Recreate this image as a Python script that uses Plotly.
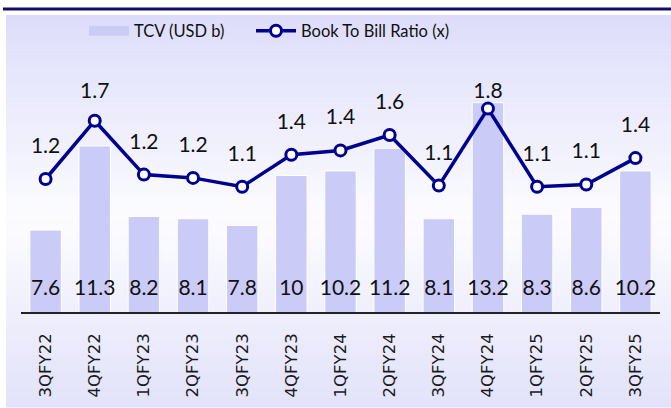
import plotly.graph_objects as go

quarters = ["3QFY22", "4QFY22", "1QFY23", "2QFY23", "3QFY23", "4QFY23", "1QFY24",
            "2QFY24", "3QFY24", "4QFY24", "1QFY25", "2QFY25", "3QFY25"]
tcv = [7.6, 11.3, 8.2, 8.1, 7.8, 10, 10.2, 11.2, 8.1, 13.2, 8.3, 8.6, 10.2]
btb = [1.17, 1.70, 1.21, 1.18, 1.10, 1.39, 1.43, 1.57, 1.11, 1.81, 1.10, 1.12, 1.36]

W, H = 671, 408
L, R, T, B = 21, 11, 50, 96
PW, PH = W - L - R, H - T - B

def px_x(px):
    return (px - L) / PW

def px_y(py):
    return (H - B - py) / PH

Y1 = [4, 4 + PH / 22.75]
Y2 = [1.10 - (H - B - 186.7) / 110, 1.10 + (186.7 - T) / 110]

BAR_COLOR = "#CBCBF8"
LINE_COLOR = "#00008F"

fig = go.Figure()

fig.add_trace(go.Bar(
    x=quarters, y=tcv, name="TCV (USD b)", showlegend=False,
    marker=dict(color=BAR_COLOR, line=dict(color="white", width=1)),
    hoverinfo="skip",
))
# legend proxy for the bars (wide swatch)
fig.add_trace(go.Scatter(
    x=[None], y=[None], mode="lines", name="TCV (USD b)",
    line=dict(color=BAR_COLOR, width=11), hoverinfo="skip",
    legendwidth=112,
))

fig.add_trace(go.Scatter(
    x=quarters, y=[Y1[0] + 1.0] * len(tcv), mode="text",
    text=[f"{v:g}" for v in tcv], textposition="middle center",
    textfont=dict(family="Lato", size=21, color="#111111"),
    showlegend=False, hoverinfo="skip",
))

fig.add_trace(go.Scatter(
    x=quarters, y=btb, name="Book To Bill Ratio (x)", yaxis="y2",
    mode="lines+markers",
    line=dict(color=LINE_COLOR, width=3.5),
    marker=dict(size=11, color="white", line=dict(color=LINE_COLOR, width=3)),
    hoverinfo="skip",
))

fig.add_trace(go.Scatter(
    x=quarters, y=[min(v + 0.285, 1.95) for v in btb], yaxis="y2", mode="text",
    text=[f"{v:.1f}" for v in btb], textposition="middle center",
    textfont=dict(family="Lato", size=21, color="#111111"),
    showlegend=False, hoverinfo="skip", cliponaxis=False,
))

# background gradient and top rule
shapes = []
top, bot = 15, 407
n = 80
for i in range(n):
    y0 = top + (bot - top) * i / n
    y1 = top + (bot - top) * (i + 1) / n
    t = (i + 0.5) / n
    mid = 0.52
    if t < mid:
        f = t / mid
        c0, c1 = (221, 221, 251), (252, 252, 255)
    else:
        f = (t - mid) / (1 - mid)
        c0, c1 = (252, 252, 255), (226, 226, 250)
    c = tuple(round(a + (b - a) * f) for a, b in zip(c0, c1))
    shapes.append(dict(type="rect", xref="paper", yref="paper", layer="below",
                       x0=px_x(6), x1=px_x(671), y0=px_y(y1 + 0.5), y1=px_y(y0),
                       fillcolor=f"rgb{c}", line=dict(width=0)))
shapes.append(dict(type="rect", xref="paper", yref="paper", layer="below",
                   x0=px_x(3), x1=px_x(671), y0=px_y(10.5), y1=px_y(7.5),
                   fillcolor="#140C6E", line=dict(width=0)))

fig.update_layout(
    width=W, height=H,
    margin=dict(l=L, r=R, t=T, b=B, pad=0, autoexpand=False),
    paper_bgcolor="white", plot_bgcolor="rgba(0,0,0,0)",
    bargap=0.36,
    shapes=shapes,
    showlegend=True,
    legend=dict(orientation="h", x=px_x(84), xanchor="left", y=px_y(31), yanchor="middle",
                font=dict(family="Lato", size=16.5, color="#111111"),
                bgcolor="rgba(0,0,0,0)", itemwidth=40, traceorder="normal"),
    xaxis=dict(type="category", range=[-0.5, len(quarters) - 0.5], automargin=False,
               showline=True, linecolor="#222222", linewidth=1.5,
               showgrid=False, zeroline=False,
               tickangle=-90, ticks="outside", ticklen=13, tickcolor="rgba(0,0,0,0)",
               tickfont=dict(family="DejaVu Sans", size=16.5, color="#1a1a1a")),
    yaxis=dict(range=Y1, visible=False, showgrid=False, zeroline=False, automargin=False),
    yaxis2=dict(range=Y2, overlaying="y", side="right", visible=False,
                showgrid=False, zeroline=False, automargin=False),
)

fig.write_html("out.html", config={"displayModeBar": False},
               post_script="document.body.style.margin='0';document.body.style.overflow='hidden';")
